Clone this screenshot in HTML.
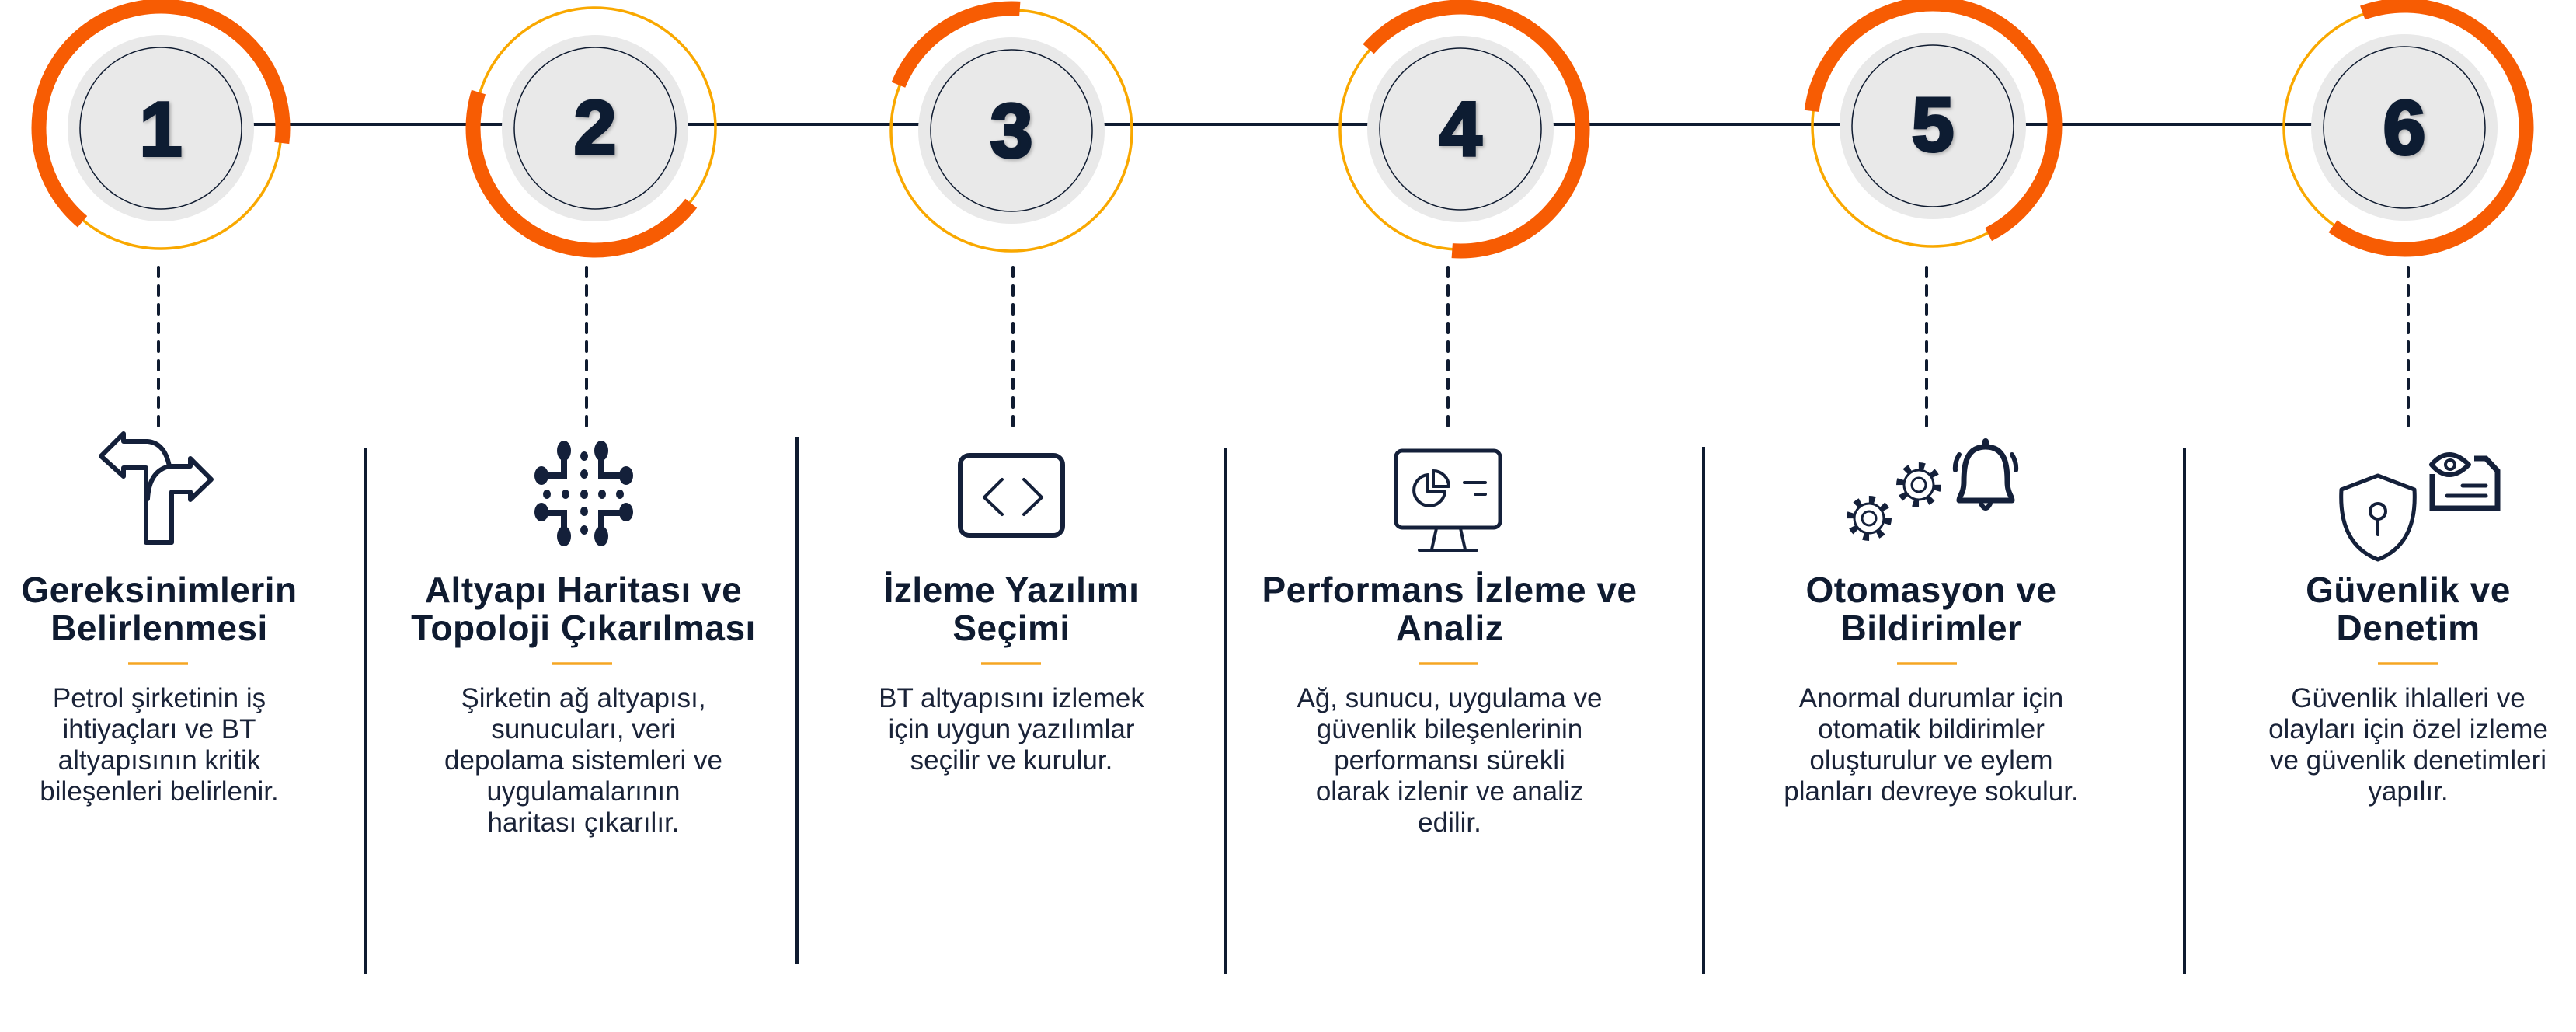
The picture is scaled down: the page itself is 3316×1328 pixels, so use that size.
<!DOCTYPE html>
<html><head><meta charset="utf-8"><style>
html,body{margin:0;padding:0;background:#fff;width:3316px;height:1328px;overflow:hidden}
svg{display:block}
.t{font-family:"Liberation Sans",sans-serif;font-weight:700;font-size:46px;letter-spacing:0.5px;fill:#0f1b30;text-anchor:middle}
.b{font-family:"Liberation Sans",sans-serif;font-size:35px;fill:#1a2338;text-anchor:middle}
.n{font-family:"Liberation Sans",sans-serif;font-weight:900;font-size:98px;fill:#0f1b30;stroke:#0f1b30;stroke-width:4;text-anchor:middle}
</style></head><body>
<svg width="3316" height="1328" viewBox="0 0 3316 1328" xmlns="http://www.w3.org/2000/svg">
<defs>
<filter id="sh" x="-20%" y="-20%" width="140%" height="140%"><feGaussianBlur in="SourceAlpha" stdDeviation="2"/><feOffset dx="2" dy="2"/><feComponentTransfer><feFuncA type="linear" slope="0.25"/></feComponentTransfer><feMerge><feMergeNode/><feMergeNode in="SourceGraphic"/></feMerge></filter>
</defs>
<line x1="205" y1="160" x2="3095" y2="160" stroke="#0f1b30" stroke-width="4"/>

<g fill="none">
 <circle cx="207" cy="165" r="155" stroke="#f9a800" stroke-width="3.5"/>
 <circle cx="207" cy="165" r="157" stroke="#f75c03" stroke-width="19" stroke-dasharray="649 9999" transform="rotate(130 207 165)"/>
 <circle cx="207" cy="165" r="120" fill="#e9e9e9"/>
 <circle cx="207" cy="165" r="104" stroke="#0f1b30" stroke-width="1.5"/>
 <circle cx="766" cy="165" r="155" stroke="#f9a800" stroke-width="3.5"/>
 <circle cx="766" cy="165" r="157" stroke="#f75c03" stroke-width="19" stroke-dasharray="436 9999" transform="rotate(38 766 165)"/>
 <circle cx="766" cy="165" r="120" fill="#e9e9e9"/>
 <circle cx="766" cy="165" r="104" stroke="#0f1b30" stroke-width="1.5"/>
 <circle cx="1302" cy="168" r="155" stroke="#f9a800" stroke-width="3.5"/>
 <circle cx="1302" cy="168" r="157" stroke="#f75c03" stroke-width="19" stroke-dasharray="197 9999" transform="rotate(202 1302 168)"/>
 <circle cx="1302" cy="168" r="120" fill="#e9e9e9"/>
 <circle cx="1302" cy="168" r="104" stroke="#0f1b30" stroke-width="1.5"/>
 <circle cx="1880" cy="166" r="155" stroke="#f9a800" stroke-width="3.5"/>
 <circle cx="1880" cy="166" r="157" stroke="#f75c03" stroke-width="19" stroke-dasharray="638 9999" transform="rotate(221 1880 166)"/>
 <circle cx="1880" cy="166" r="120" fill="#e9e9e9"/>
 <circle cx="1880" cy="166" r="104" stroke="#0f1b30" stroke-width="1.5"/>
 <circle cx="2488" cy="162" r="155" stroke="#f9a800" stroke-width="3.5"/>
 <circle cx="2488" cy="162" r="157" stroke="#f75c03" stroke-width="19" stroke-dasharray="646 9999" transform="rotate(187 2488 162)"/>
 <circle cx="2488" cy="162" r="120" fill="#e9e9e9"/>
 <circle cx="2488" cy="162" r="104" stroke="#0f1b30" stroke-width="1.5"/>
 <circle cx="3095" cy="164" r="155" stroke="#f9a800" stroke-width="3.5"/>
 <circle cx="3095" cy="164" r="157" stroke="#f75c03" stroke-width="19" stroke-dasharray="646 9999" transform="rotate(250 3095 164)"/>
 <circle cx="3095" cy="164" r="120" fill="#e9e9e9"/>
 <circle cx="3095" cy="164" r="104" stroke="#0f1b30" stroke-width="1.5"/>
</g>
<g filter="url(#sh)">
<text class="n" x="207" y="200">1</text>
<text class="n" x="766" y="198">2</text>
<text class="n" x="1302" y="202">3</text>
<text class="n" x="1880" y="200">4</text>
<text class="n" x="2488" y="194">5</text>
<text class="n" x="3095" y="198">6</text>
</g>

<g stroke="#0f1b30" stroke-width="4" stroke-dasharray="12 12" stroke-linecap="round">
 <line x1="204" y1="344" x2="204" y2="556"/>
 <line x1="755" y1="344" x2="755" y2="556"/>
 <line x1="1304" y1="344" x2="1304" y2="556"/>
 <line x1="1864" y1="344" x2="1864" y2="556"/>
 <line x1="2480" y1="344" x2="2480" y2="556"/>
 <line x1="3100" y1="344" x2="3100" y2="556"/>
</g>

<g stroke="#0f1b30" stroke-width="4">
 <line x1="471" y1="577" x2="471" y2="1253"/>
 <line x1="1026" y1="562" x2="1026" y2="1240"/>
 <line x1="1577" y1="577" x2="1577" y2="1253"/>
 <line x1="2193" y1="575" x2="2193" y2="1253"/>
 <line x1="2812" y1="577" x2="2812" y2="1253"/>
</g>

<g fill="none" stroke="#14203a" stroke-width="6" stroke-linejoin="round" stroke-linecap="round">
 <path d="M159,602 H188 V698 H221 V633 H245 V643 L272,617 L245,590 V600 H218 Q212,570 190,568 H159 V558 L130,587 L159,613 Z"/>
 <path d="M190,642 Q192,606 218,600"/>
 <rect x="1236" y="586" width="132" height="103" rx="12"/>
 <path d="M1290,617 L1267,640 L1290,662 M1318,617 L1341,640 L1318,662" stroke-width="4"/>
 <rect x="1797" y="580" width="134" height="99" rx="8" stroke-width="5"/>
 <path d="M1838,611 A20,20 0 1,0 1860,633 H1838 Z" stroke-width="4"/>
 <path d="M1845,606 V626 H1865 A20,20 0 0,0 1845,606 Z" stroke-width="4"/>
 <path d="M1885,621 H1912 M1899,636 H1912" stroke-width="4"/>
 <path d="M1849,680 L1843,707 M1880,680 L1886,707 M1827,708 H1901" stroke-width="4"/>
 <g stroke-width="3">
  <circle cx="2406" cy="667" r="24" stroke-width="10" stroke-dasharray="7.5 11.3" stroke-linecap="butt"/>
  <circle cx="2406" cy="667" r="19" fill="#fff"/>
  <circle cx="2406" cy="667" r="9"/>
  <circle cx="2470" cy="624" r="24" stroke-width="10" stroke-dasharray="7.5 11.3" stroke-linecap="butt"/>
  <circle cx="2470" cy="624" r="19" fill="#fff"/>
  <circle cx="2470" cy="624" r="9"/>
 </g>
 <path d="M2556,575 C2530,575 2528,600 2528,620 C2528,635 2522,638 2522,644 H2590 C2590,638 2584,635 2584,620 C2584,600 2582,575 2556,575 Z" stroke-width="7"/>
 <path d="M2550,648 Q2556,660 2562,648" stroke-width="6"/>
 <path d="M2522,585 Q2516,595 2517,605 M2590,585 Q2596,595 2595,605" stroke-width="6"/>
 <path d="M2556,572 V568" stroke-width="8"/>
 <path d="M3061,612 L3108,630 Q3112,700 3061,720 Q3010,700 3014,630 Z" stroke-width="5"/>
 <circle cx="3061" cy="658" r="10" stroke-width="4"/>
 <path d="M3061,668 V688" stroke-width="4"/>
 <path d="M3131,610 V654 H3215 V606 L3200,590 H3185" stroke-width="7" stroke-linecap="butt" stroke-linejoin="miter"/>
 <path d="M3130,598 Q3152,572 3178,598 Q3152,624 3130,598 Z" stroke-width="6"/>
 <circle cx="3154" cy="598" r="6" stroke-width="4"/>
 <path d="M3170,625 H3200 M3150,638 H3200" stroke-width="5"/>
</g>
<g fill="#14203a">
 <path d="M726,590 V612 H700 M774,590 V612 H804 M726,680 V660 H700 M774,680 V660 H804" stroke="#14203a" stroke-width="8" fill="none"/>
 <ellipse cx="726" cy="580" rx="9" ry="13"/><ellipse cx="774" cy="580" rx="9" ry="13"/>
 <ellipse cx="697" cy="612" rx="9" ry="12"/><ellipse cx="806" cy="612" rx="9" ry="12"/>
 <ellipse cx="697" cy="659" rx="9" ry="12"/><ellipse cx="806" cy="659" rx="9" ry="12"/>
 <ellipse cx="726" cy="690" rx="9" ry="13"/><ellipse cx="774" cy="690" rx="9" ry="13"/>
 <ellipse cx="752" cy="587" rx="5" ry="6"/><ellipse cx="752" cy="610" rx="5" ry="6"/>
 <ellipse cx="752" cy="658" rx="5" ry="6"/><ellipse cx="752" cy="682" rx="5" ry="6"/>
 <ellipse cx="704" cy="636" rx="5" ry="6"/><ellipse cx="728" cy="636" rx="5" ry="6"/>
 <ellipse cx="752" cy="636" rx="5" ry="6"/><ellipse cx="775" cy="636" rx="5" ry="6"/>
 <ellipse cx="798" cy="636" rx="5" ry="6"/>
</g>

<g stroke="#f5a623" stroke-width="3.5">
 <line x1="165" y1="854" x2="242" y2="854"/>
 <line x1="711" y1="854" x2="788" y2="854"/>
 <line x1="1263" y1="854" x2="1340" y2="854"/>
 <line x1="1826" y1="854" x2="1903" y2="854"/>
 <line x1="2442" y1="854" x2="2519" y2="854"/>
 <line x1="3061" y1="854" x2="3138" y2="854"/>
</g>

<text class="t" x="205" y="775">Gereksinimlerin</text>
<text class="t" x="205" y="824">Belirlenmesi</text>
<text class="t" x="751" y="775">Altyapı Haritası ve</text>
<text class="t" x="751" y="824">Topoloji Çıkarılması</text>
<text class="t" x="1302" y="775">İzleme Yazılımı</text>
<text class="t" x="1302" y="824">Seçimi</text>
<text class="t" x="1866" y="775">Performans İzleme ve</text>
<text class="t" x="1866" y="824">Analiz</text>
<text class="t" x="2486" y="775">Otomasyon ve</text>
<text class="t" x="2486" y="824">Bildirimler</text>
<text class="t" x="3100" y="775">Güvenlik ve</text>
<text class="t" x="3100" y="824">Denetim</text>

<text class="b" x="205" y="910">Petrol şirketinin iş</text>
<text class="b" x="205" y="950">ihtiyaçları ve BT</text>
<text class="b" x="205" y="990">altyapısının kritik</text>
<text class="b" x="205" y="1030">bileşenleri belirlenir.</text>

<text class="b" x="751" y="910">Şirketin ağ altyapısı,</text>
<text class="b" x="751" y="950">sunucuları, veri</text>
<text class="b" x="751" y="990">depolama sistemleri ve</text>
<text class="b" x="751" y="1030">uygulamalarının</text>
<text class="b" x="751" y="1070">haritası çıkarılır.</text>

<text class="b" x="1302" y="910">BT altyapısını izlemek</text>
<text class="b" x="1302" y="950">için uygun yazılımlar</text>
<text class="b" x="1302" y="990">seçilir ve kurulur.</text>

<text class="b" x="1866" y="910">Ağ, sunucu, uygulama ve</text>
<text class="b" x="1866" y="950">güvenlik bileşenlerinin</text>
<text class="b" x="1866" y="990">performansı sürekli</text>
<text class="b" x="1866" y="1030">olarak izlenir ve analiz</text>
<text class="b" x="1866" y="1070">edilir.</text>

<text class="b" x="2486" y="910">Anormal durumlar için</text>
<text class="b" x="2486" y="950">otomatik bildirimler</text>
<text class="b" x="2486" y="990">oluşturulur ve eylem</text>
<text class="b" x="2486" y="1030">planları devreye sokulur.</text>

<text class="b" x="3100" y="910">Güvenlik ihlalleri ve</text>
<text class="b" x="3100" y="950">olayları için özel izleme</text>
<text class="b" x="3100" y="990">ve güvenlik denetimleri</text>
<text class="b" x="3100" y="1030">yapılır.</text>
</svg>
</body></html>
